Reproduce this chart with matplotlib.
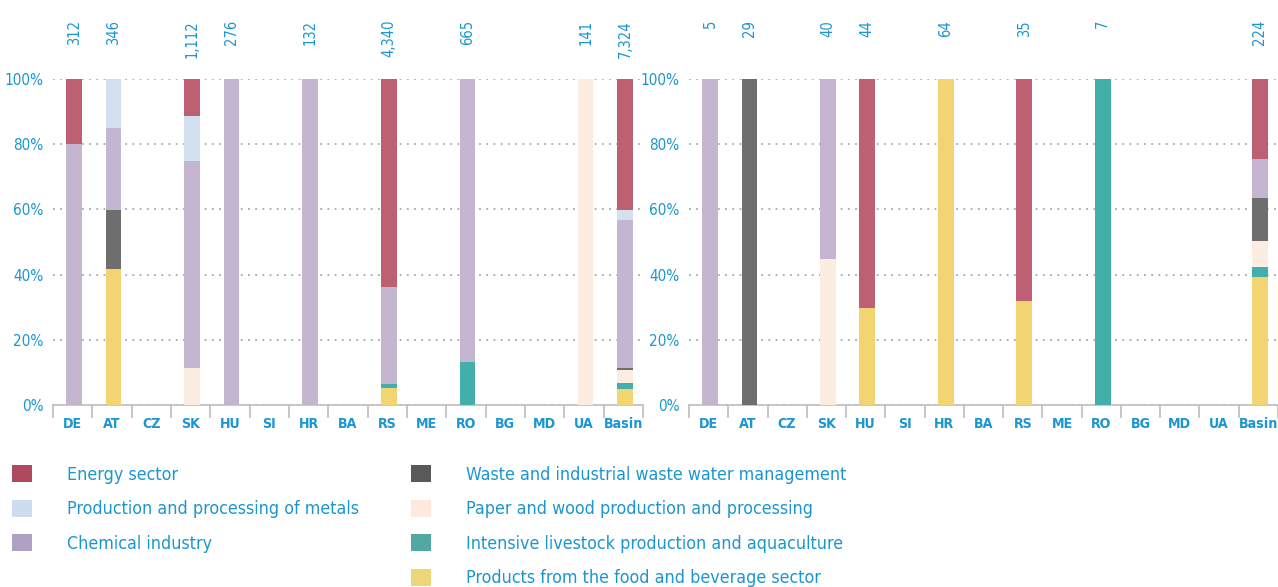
import matplotlib
matplotlib.use("Agg")
import matplotlib.pyplot as plt
import numpy as np
from matplotlib.patches import Patch

plt.rcParams["font.family"] = ["DejaVu Sans"]
plt.rcParams["font.stretch"] = "condensed"

BLUE = "#1b96d0"
GRID = "#a8a8a8"

COUNTRIES = ["DE", "AT", "CZ", "SK", "HU", "SI", "HR", "BA", "RS", "ME",
             "RO", "BG", "MD", "UA", "Basin"]

SECTORS = [
    "Products from the food and beverage sector",
    "Intensive livestock production and aquaculture",
    "Paper and wood production and processing",
    "Waste and industrial waste water management",
    "Chemical industry",
    "Production and processing of metals",
    "Energy sector",
]
BAR_COLORS = ["#f2d572", "#43afaa", "#fcede2", "#6e6e6e", "#c4b5d0", "#d2e0f0", "#bd6074"]
LEGEND_COLORS = ["#eed578", "#52a8a2", "#fde9de", "#595959", "#b0a0c4", "#cddcef", "#af4a5e"]

# left panel: totals and shares (%) per sector, bottom -> top order as SECTORS
TOTALS_LEFT = ["312", "346", "", "1,112", "276", "", "132", "", "4,340", "",
               "665", "", "", "141", "7,324"]
FOOD_L      = [0, 41.6, 0, 0,    0, 0, 0, 0, 5.2,  0, 0,    0, 0, 0,   4.9]
LIVESTOCK_L = [0, 0,    0, 0,    0, 0, 0, 0, 1.1,  0, 13.1, 0, 0, 0,   2.0]
PAPER_L     = [0, 0,    0, 11.2, 0, 0, 0, 0, 0,    0, 0,    0, 0, 100, 3.7]
WASTE_L     = [0, 18.3, 0, 0,    0, 0, 0, 0, 0,    0, 0,    0, 0, 0,   0.6]
CHEM_L      = [80.2, 25.0, 0, 63.5, 100, 0, 100, 0, 29.9, 0, 86.9, 0, 0, 0, 45.6]
METALS_L    = [0, 15.1, 0, 14.1, 0, 0, 0, 0, 0,    0, 0,    0, 0, 0,   3.0]
ENERGY_L    = [19.8, 0, 0, 11.2, 0, 0, 0, 0, 63.8, 0, 0,    0, 0, 0,   40.2]

# right panel
TOTALS_RIGHT = ["5", "29", "", "40", "44", "", "64", "", "35", "",
                "7", "", "", "", "224"]
FOOD_R      = [0, 0, 0, 0,    29.7, 0, 100, 0, 32.0, 0, 0,   0, 0, 0, 39.2]
LIVESTOCK_R = [0, 0, 0, 0,    0,    0, 0,   0, 0,    0, 100, 0, 0, 0, 3.2]
PAPER_R     = [0, 0, 0, 44.7, 0,    0, 0,   0, 0,    0, 0,   0, 0, 0, 8.0]
WASTE_R     = [0, 100, 0, 0,  0,    0, 0,   0, 0,    0, 0,   0, 0, 0, 13.0]
CHEM_R      = [100, 0, 0, 55.3, 0,  0, 0,   0, 0,    0, 0,   0, 0, 0, 12.2]
METALS_R    = [0, 0, 0, 0,    0,    0, 0,   0, 0,    0, 0,   0, 0, 0, 0]
ENERGY_R    = [0, 0, 0, 0,    70.3, 0, 0,   0, 68.0, 0, 0,   0, 0, 0, 24.4]

LEFT = [FOOD_L, LIVESTOCK_L, PAPER_L, WASTE_L, CHEM_L, METALS_L, ENERGY_L]
RIGHT = [FOOD_R, LIVESTOCK_R, PAPER_R, WASTE_R, CHEM_R, METALS_R, ENERGY_R]


def draw_panel(ax, series, totals):
    x = np.arange(len(COUNTRIES))
    bottom = np.zeros(len(COUNTRIES))
    for vals, col in zip(series, BAR_COLORS):
        vals = np.array(vals, dtype=float)
        ax.bar(x + 0.04, vals, bottom=bottom, width=0.4, color=col, zorder=3)
        bottom += vals
    ax.set_xlim(-0.5, len(COUNTRIES) - 0.5)
    ax.set_ylim(0, 100)
    ax.set_yticks(np.arange(0, 101, 20))
    ax.set_yticklabels([f"{v}%" for v in range(0, 101, 20)], color=BLUE, fontsize=11)
    ax.yaxis.grid(True, linestyle=(0, (1, 3)), color=GRID, lw=1.3, zorder=0)
    ax.set_xticks(x)
    ax.set_xticklabels(COUNTRIES, color=BLUE, fontsize=10.2, fontweight="bold")
    ax.set_xticks(np.arange(-0.5, len(COUNTRIES)), minor=True)
    ax.tick_params(axis="x", which="major", length=0, pad=9)
    ax.tick_params(axis="x", which="minor", length=9, color="#bdbdbd", width=1.2)
    ax.tick_params(axis="y", length=0, pad=7)
    for s in ["top", "right", "left"]:
        ax.spines[s].set_visible(False)
    ax.spines["bottom"].set_color("#bdbdbd")
    ax.spines["bottom"].set_linewidth(1.2)
    for xi, t in zip(x, totals):
        if t:
            ax.annotate(t, (xi + 0.04, 1.0), xycoords=("data", "axes fraction"),
                        xytext=(0, 42.5), textcoords="offset points",
                        rotation=90, ha="center", va="top", color=BLUE, fontsize=10.5)


fig = plt.figure(figsize=(12.78, 5.87), dpi=100)
ax1 = fig.add_axes([53 / 1278, 182 / 587, 590 / 1278, 326 / 587])
ax2 = fig.add_axes([689 / 1278, 182 / 587, 589 / 1278, 326 / 587])
draw_panel(ax1, LEFT, TOTALS_LEFT)
draw_panel(ax2, RIGHT, TOTALS_RIGHT)

order = list(range(len(SECTORS)))[::-1]
handles = [Patch(facecolor=LEGEND_COLORS[i], label=SECTORS[i]) for i in order]
leg_kw = dict(frameon=False, fontsize=12.8, labelcolor=BLUE, handlelength=1.1,
              handleheight=1.1, handletextpad=2.0, labelspacing=0.9,
              borderpad=0, borderaxespad=0, loc="upper left")
fig.legend(handles=handles[:3], bbox_to_anchor=(12 / 1278, 1 - 465 / 587), **leg_kw)
fig.legend(handles=handles[3:], bbox_to_anchor=(411 / 1278, 1 - 465 / 587), **leg_kw)

fig.savefig("out.png", dpi=100)
